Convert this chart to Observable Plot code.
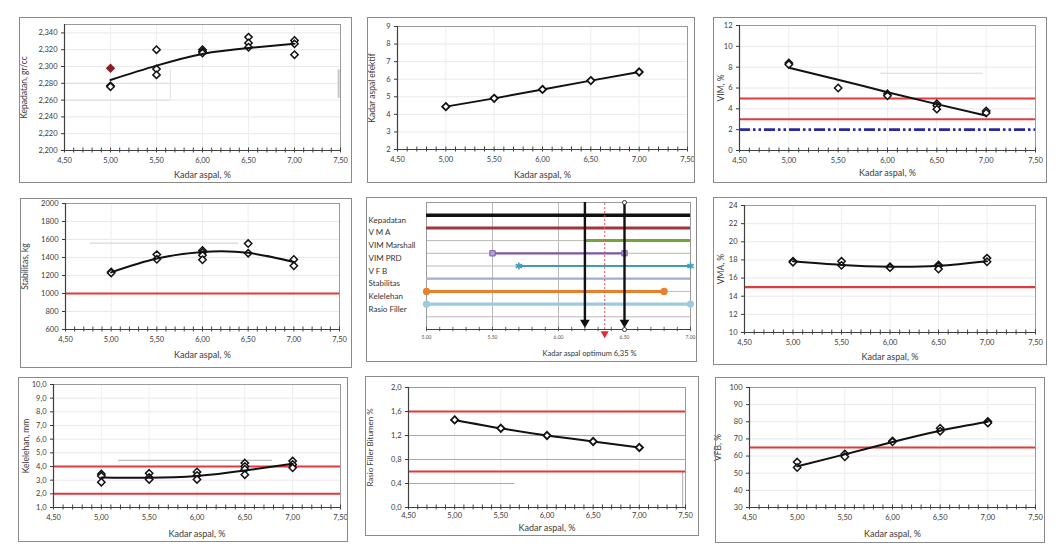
<!DOCTYPE html>
<html>
<head>
<meta charset="utf-8">
<script src="https://cdn.jsdelivr.net/npm/d3@7"></script>
<script src="https://cdn.jsdelivr.net/npm/@observablehq/plot@0.6"></script>
<style>
  body { margin: 0; background: #fff; }
  #sheet { position: relative; width: 1061px; height: 555px; overflow: hidden; background: #fff; }
  .panel { position: absolute; }
  .panel svg { position: absolute; left: 0; top: 0; }
  .panel .box { position: absolute; left: 0; top: 0; right: 0; bottom: 0; border: 1.6px solid #8a8a8a; box-sizing: border-box; pointer-events: none; }
</style>
</head>
<body>
<div id="sheet"></div>
<script>
// ---- Data: Marshall test results versus asphalt content ----
const kadarAspal = [5.0, 5.5, 6.0, 6.5, 7.0];

// Kepadatan (gr/cc)
const kepadatanUji = [[5.0, 2.277], [5.0, 2.276], [5.5, 2.320], [5.5, 2.297], [5.5, 2.290], [6.0, 2.320], [6.0, 2.318], [6.0, 2.316], [6.5, 2.335], [6.5, 2.328], [6.5, 2.323], [7.0, 2.331], [7.0, 2.327], [7.0, 2.314]];
const kepadatanLuar = [[5.0, 2.298]];
const kepadatanTren = [2.284, 2.301, 2.315, 2.322, 2.327];

// Kadar aspal efektif
const aspalEfektif = [4.44, 4.91, 5.42, 5.92, 6.41];

// VIM (%)
const vimUji = [[5.0, 8.40], [5.0, 8.26], [5.5, 6.00], [6.0, 5.44], [6.0, 5.25], [6.5, 4.50], [6.5, 4.30], [6.5, 3.97], [7.0, 3.80], [7.0, 3.60]];
const vimTren = [7.95, 6.80, 5.60, 4.45, 3.35];
const vimBatas = [3, 5];
const vimRefusal = [2];

// Stabilitas (kg)
const stabilitasUji = [[5.0, 1240], [5.0, 1228], [5.5, 1432], [5.5, 1380], [6.0, 1478], [6.0, 1455], [6.0, 1424], [6.0, 1375], [6.5, 1555], [6.5, 1448], [7.0, 1378], [7.0, 1308]];
const stabilitasTren = [1235, 1388, 1462, 1452, 1350];
const stabilitasMin = [1000];

// VMA (%)
const vmaUji = [[5.0, 17.85], [5.0, 17.75], [5.5, 17.85], [5.5, 17.40], [6.0, 17.25], [6.0, 17.15], [6.5, 17.45], [6.5, 17.30], [6.5, 17.00], [7.0, 18.20], [7.0, 17.80]];
const vmaTren = [17.85, 17.45, 17.25, 17.35, 17.85];
const vmaMin = [15];

// Kelelehan (mm)
const kelelehanUji = [[5.0, 3.45], [5.0, 3.30], [5.0, 2.85], [5.5, 3.50], [5.5, 3.20], [5.5, 3.05], [6.0, 3.60], [6.0, 3.35], [6.0, 3.05], [6.5, 4.25], [6.5, 4.00], [6.5, 3.80], [6.5, 3.40], [7.0, 4.40], [7.0, 4.15], [7.0, 3.90]];
const kelelehanTren = [3.20, 3.17, 3.30, 3.70, 4.20];
const kelelehanBatas = [2, 4];

// Rasio filler bitumen (%)
const rasioFiller = [1.46, 1.32, 1.20, 1.10, 1.00];
const rasioBatas = [0.6, 1.6];

// VFB (%)
const vfbUji = [[5.0, 56.5], [5.0, 53.3], [5.5, 61.2], [5.5, 59.6], [6.0, 68.8], [6.0, 68.3], [6.5, 76.3], [6.5, 74.5], [7.0, 80.2], [7.0, 79.3]];
const vfbTren = [54.0, 61.0, 68.2, 74.8, 80.0];
const vfbMin = [65];

// Ranges of asphalt content meeting each requirement
const parameter = ["Kepadatan", "V M A", "VIM Marshall", "VIM PRD", "V F B", "Stabilitas", "Kelelehan", "Rasio Filler"];
const rentangAwal = [5.0, 5.0, 6.2, 5.5, 5.7, 5.0, 5.0, 5.0];
const rentangAkhir = [7.0, 7.0, 7.0, 6.5, 7.0, 7.0, 6.8, 7.0];
const batasRentang = [6.2, 6.5];
const kadarOptimum = [6.35];

// ---- Styling ----
const FONT = "Lato, 'Open Sans', sans-serif";
const RED = "#e23a3c";
const INK = "#3a3a3a";
const comma = (d, n) => d.toFixed(n).replace(".", ",");
const xMajor = [4.5, 5.0, 5.5, 6.0, 6.5, 7.0, 7.5];
const xMinor = d3.range(45, 76).map(v => v / 10);
const rowStyle = [
  {stroke: "#111111", width: 3.6},
  {stroke: "#a1363a", width: 3},
  {stroke: "#77a33c", width: 3},
  {stroke: "#7d58a8", width: 2.2, end: "square"},
  {stroke: "#3f9cb5", width: 2.2, end: "asterisk"},
  {stroke: "#a4aed0", width: 2.2},
  {stroke: "#e8802c", width: 3, end: "circle"},
  {stroke: "#9ccae0", width: 3.2, end: "circle"}
];

const sheet = document.getElementById("sheet");

function place(box, svg) {
  const [L, T, W, H] = box;
  const div = document.createElement("div");
  div.className = "panel";
  Object.assign(div.style, {left: L + "px", top: T + "px", width: W + "px", height: H + "px"});
  div.appendChild(svg);
  const frame = document.createElement("div");
  frame.className = "box";
  div.appendChild(frame);
  sheet.appendChild(div);
}

const dots = (data, extra = {}) => Plot.dot(data, {
  x: d => d[0], y: d => d[1], symbol: "diamond2", r: 3.3,
  fill: "white", stroke: "#111", strokeWidth: 1.5, ...extra
});
const trend = (values, extra = {}) => Plot.line(kadarAspal, {
  x: d => d, y: (d, i) => values[i], stroke: "#111", strokeWidth: 2, curve: "natural", ...extra
});

// One Excel-style scatter panel
function panel({box, area, yDomain, yTicks, yFormat, yLabel, yLabelDx, xLabelDy, xTickPad = 7, yLabelSize = 8.5, marks, gridColor = "#e9e9e9"}) {
  const [L, T, W, H] = box;
  const [x0, y0, x1, y1] = area;
  const yMin = yDomain[0];
  const svg = Plot.plot({
    width: W, height: H,
    marginLeft: x0 - L, marginRight: L + W - x1, marginTop: y0 - T, marginBottom: T + H - y1,
    style: {fontFamily: FONT, fontSize: "7.5px", color: INK, background: "transparent", overflow: "visible"},
    x: {domain: [4.5, 7.5]},
    y: {domain: yDomain},
    marks: [
      Plot.ruleY(yTicks, {stroke: gridColor}),
      Plot.ruleX([5.0, 5.5, 6.0, 6.5, 7.0], {stroke: "#eeeeee"}),
      Plot.frame({stroke: "#9a9a9a"}),
      ...marks,
      Plot.ruleY([yMin], {stroke: "#404040", strokeWidth: 1.2}),
      Plot.ruleX([4.5], {stroke: "#404040", strokeWidth: 1.2}),
      Plot.ruleX(xMinor, {x: d => d, y1: yMin, y2: yMin, insetTop: -2.5, insetBottom: -2.5, stroke: "#404040"}),
      Plot.axisX({ticks: xMajor, tickFormat: d => comma(d, 2), tickSize: 0, tickPadding: xTickPad, label: null}),
      Plot.axisY({ticks: yTicks, tickFormat: yFormat, tickSize: 3, tickPadding: 4, label: null}),
      Plot.text([yLabel], {text: d => d, frameAnchor: "left", textAnchor: "middle", lineAnchor: "middle", rotate: -90, dx: yLabelDx, fontSize: yLabelSize, fill: INK}),
      Plot.text(["Kadar aspal, %"], {text: d => d, frameAnchor: "bottom", textAnchor: "middle", lineAnchor: "middle", dy: xLabelDy, fontSize: 9, fill: INK})
    ]
  });
  place(box, svg);
}

// Kepadatan
panel({
  box: [19, 17, 333, 166], area: [64, 24, 340, 150],
  yDomain: [2.2, 2.35], yTicks: d3.range(2200, 2341, 20).map(v => v / 1000), yFormat: d => comma(d, 3),
  yLabel: "Kepadatan, gr/cc", yLabelDx: -40, xLabelDy: 25,
  marks: [
    Plot.ruleY([2.28, 2.26], {x1: 4.5, x2: 5.65, stroke: "#dcdcdc"}),
    Plot.ruleX([5.65], {y1: 2.26, y2: 2.297, stroke: "#e2e2e2"}),
    Plot.ruleX([7.48], {y1: 2.262, y2: 2.296, stroke: "#c8c8c8", strokeWidth: 2}),
    dots(kepadatanUji),
    dots(kepadatanLuar, {fill: "#8b1f24", stroke: "#8b1f24"}),
    trend(kepadatanTren)
  ]
});

// Kadar aspal efektif
panel({
  box: [367, 17, 328, 166], area: [397, 26, 687, 149],
  yDomain: [2, 9], yTicks: d3.range(2, 10), yFormat: d => String(d),
  yLabel: "Kadar aspal efektif", yLabelDx: -25, xLabelDy: 26,
  marks: [
    Plot.line(kadarAspal, {x: d => d, y: (d, i) => aspalEfektif[i], stroke: "#111", strokeWidth: 2}),
    Plot.dot(kadarAspal, {x: d => d, y: (d, i) => aspalEfektif[i], symbol: "diamond2", r: 3.3, fill: "white", stroke: "#111", strokeWidth: 1.8})
  ]
});

// VIM
panel({
  box: [713, 17, 334, 166], area: [739, 25, 1035, 150],
  yDomain: [0, 12], yTicks: d3.range(0, 13, 2), yFormat: d => String(d),
  yLabel: "VIM, %", yLabelDx: -18, xLabelDy: 23,
  marks: [
    Plot.ruleY([7.42], {x1: 5.93, x2: 6.97, stroke: "#d6d6d6"}),
    Plot.ruleY(vimBatas, {stroke: RED, strokeWidth: 2}),
    Plot.ruleY(vimRefusal, {stroke: "#2a2aa0", strokeWidth: 2.6, strokeDasharray: "11,3,2.5,3,2.5,3"}),
    dots(vimUji),
    trend(vimTren)
  ]
});

// Stabilitas
panel({
  box: [20, 198, 332, 170], area: [65, 203, 339, 329],
  yDomain: [600, 2000], yTicks: d3.range(600, 2001, 200), yFormat: d => String(d),
  yLabel: "Stabilitas, kg", yLabelDx: -40, xLabelDy: 26,
  marks: [
    Plot.ruleY([1560], {x1: 4.77, x2: 6.4, stroke: "#cfcfcf"}),
    Plot.ruleY(stabilitasMin, {stroke: RED, strokeWidth: 2.2}),
    dots(stabilitasUji),
    trend(stabilitasTren)
  ]
});

// VMA
panel({
  box: [713, 197, 334, 168], area: [744, 205, 1035, 332],
  yDomain: [10, 24], yTicks: d3.range(10, 25, 2), yFormat: d => String(d),
  yLabel: "VMA, %", yLabelDx: -23, xLabelDy: 25,
  marks: [
    Plot.ruleY(vmaMin, {stroke: RED, strokeWidth: 2.2}),
    dots(vmaUji),
    trend(vmaTren)
  ]
});

// Kelelehan
panel({
  box: [18, 377, 330, 165], area: [53, 384, 340, 507],
  yDomain: [1, 10], yTicks: d3.range(1, 11), yFormat: d => comma(d, 1),
  yLabel: "Kelelehan, mm", yLabelDx: -27, xLabelDy: 27,
  marks: [
    Plot.ruleY([4.45], {x1: 5.18, x2: 6.79, stroke: "#bdbdbd", strokeWidth: 1.4}),
    Plot.ruleY(kelelehanBatas, {stroke: RED, strokeWidth: 2}),
    dots(kelelehanUji),
    trend(kelelehanTren)
  ]
});

// Rasio filler bitumen
panel({
  box: [365, 376, 334, 160], area: [408, 387, 685, 507],
  yDomain: [0, 2], yTicks: [0, 0.4, 0.8, 1.2, 1.6, 2.0], yFormat: d => comma(d, 1),
  yLabel: "Rasio Filler Bitumen %", yLabelDx: -38, xLabelDy: 21, xTickPad: 5, yLabelSize: 8,
  gridColor: "transparent",
  marks: [
    Plot.ruleY([0.8, 1.2], {stroke: "#a9a9a9"}),
    Plot.ruleY([0.4], {x1: 4.5, x2: 5.65, stroke: "#a9a9a9"}),
    Plot.ruleX([7.47], {y1: 0, y2: 0.6, stroke: "#a9a9a9"}),
    Plot.ruleY(rasioBatas, {stroke: RED, strokeWidth: 2}),
    trend(rasioFiller),
    Plot.dot(kadarAspal, {x: d => d, y: (d, i) => rasioFiller[i], symbol: "diamond2", r: 3.3, fill: "white", stroke: "#111", strokeWidth: 1.8})
  ]
});

// VFB
panel({
  box: [715, 377, 330, 166], area: [749, 387, 1035, 507],
  yDomain: [30, 100], yTicks: d3.range(30, 101, 10), yFormat: d => String(d),
  yLabel: "VFB, %", yLabelDx: -31, xLabelDy: 27,
  marks: [
    Plot.ruleY(vfbMin, {stroke: RED, strokeWidth: 2}),
    dots(vfbUji),
    trend(vfbTren)
  ]
});

// Range chart for the optimum asphalt content
{
  const box = [366, 197, 331, 165];
  const [L, T, W, H] = box;
  const rows = parameter.map((name, i) => ({name, y: 9 - i, x1: rentangAwal[i], x2: rentangAkhir[i], ...rowStyle[i]}));
  const ends = rows.filter(r => r.end).flatMap(r => [{...r, x: r.x1}, {...r, x: r.x2}]);
  const svg = Plot.plot({
    width: W, height: H,
    marginLeft: 426 - L, marginRight: L + W - 690, marginTop: 202 - T, marginBottom: T + H - 329,
    style: {fontFamily: FONT, fontSize: "5px", color: "#555", background: "transparent", overflow: "visible"},
    x: {domain: [5, 7]},
    y: {domain: [0, 10], axis: null},
    marks: [
      Plot.ruleY(d3.range(1, 10), {stroke: "#b9b9b9"}),
      Plot.ruleX([5.5, 6.0, 6.5], {stroke: "#b9b9b9"}),
      Plot.frame({stroke: "#9a9a9a"}),
      Plot.ruleY(rows, {y: "y", x1: "x1", x2: "x2", stroke: "stroke", strokeWidth: "width"}),
      Plot.dot(ends.filter(e => e.end === "circle"), {x: "x", y: "y", r: 3.6, fill: "stroke"}),
      Plot.dot(ends.filter(e => e.end === "square"), {x: "x", y: "y", symbol: "square", r: 3, fill: "#b7a2d4", stroke: "stroke", strokeWidth: 1}),
      Plot.dot(ends.filter(e => e.end === "asterisk"), {x: "x", y: "y", symbol: "asterisk", r: 3.4, stroke: "stroke", strokeWidth: 1.6}),
      Plot.ruleX(kadarOptimum, {y1: 0, y2: 10, stroke: "#e8585a", strokeWidth: 1, strokeDasharray: "2,2"}),
      Plot.dot(kadarOptimum, {x: d => d, y: 0, dy: 4, symbol: "triangle", rotate: 180, r: 3, fill: "#e0283a"}),
      Plot.ruleX(batasRentang, {y1: 10, y2: 0.7, stroke: "#111", strokeWidth: 2.4}),
      Plot.dot(batasRentang, {x: d => d, y: 0.55, symbol: "triangle", rotate: 180, r: 3.6, fill: "#111"}),
      Plot.ruleY([0], {stroke: "#404040", strokeWidth: 1.1}),
      Plot.ruleX(d3.range(50, 71).map(v => v / 10), {x: d => d, y1: 0, y2: 0, insetTop: -2.2, insetBottom: -2.2, stroke: "#404040", strokeWidth: 0.8}),
      Plot.dot([batasRentang[1]], {x: d => d, y: 10, r: 2, fill: "white", stroke: "#333", strokeWidth: 1}),
      Plot.dot([batasRentang[1]], {x: d => d, y: 0, r: 2, fill: "white", stroke: "#333", strokeWidth: 1}),
      Plot.axisX({ticks: [5.0, 5.5, 6.0, 6.5, 7.0], tickFormat: d => d.toFixed(2), tickSize: 0, tickPadding: 6, label: null}),
      Plot.text(rows, {x: 5, y: "y", text: "name", dx: -58, dy: 5, textAnchor: "start", fontSize: 8, fill: "#333"}),
      Plot.text(["Kadar aspal optimum 6,35 %"], {text: d => d, frameAnchor: "bottom", textAnchor: "middle", lineAnchor: "middle", dx: 31, dy: 24, fontSize: 7.5, fill: "#333"})
    ]
  });
  place(box, svg);
}
</script>
</body>
</html>
